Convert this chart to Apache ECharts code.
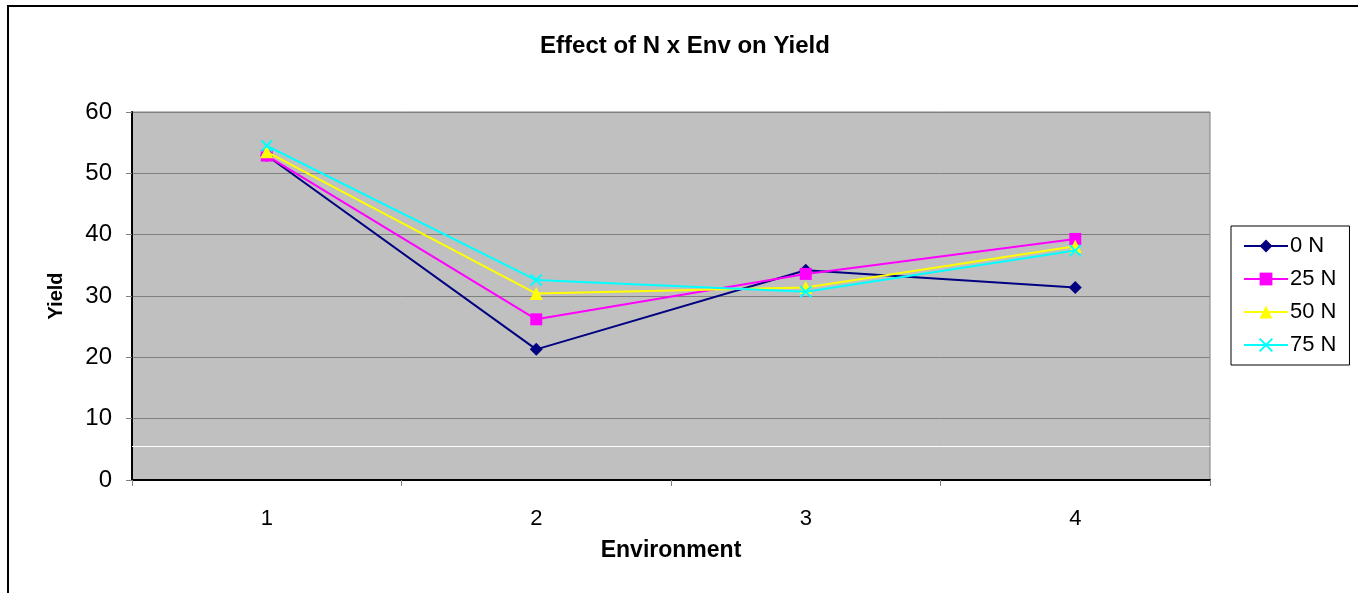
<!DOCTYPE html>
<html>
<head>
<meta charset="utf-8">
<script src="https://cdn.jsdelivr.net/npm/echarts@6/dist/echarts.min.js"></script>
<style>
html,body{margin:0;padding:0;background:#fff;}
#c{width:1358px;height:593px;}
</style>
</head>
<body>
<div id="c"></div>
<script>
const categories = ['1', '2', '3', '4'];
const seriesNames = ['0 N', '25 N', '50 N', '75 N'];
const n0 = [52.9, 21.3, 34.2, 31.4];
const n25 = [52.9, 26.2, 33.6, 39.3];
const n50 = [53.5, 30.4, 31.4, 38.1];
const n75 = [54.5, 32.6, 30.7, 37.4];
const yTicks = [0, 10, 20, 30, 40, 50, 60];

const chart = echarts.init(document.getElementById('c'), null, {renderer: 'canvas'});
const font = '"Liberation Sans", Arial, sans-serif';
const colors = ['#000080', '#FF00FF', '#FFFF00', '#00FFFF'];
const symbols = ['diamond', 'rect', 'triangle', 'path://M0,0L10,10M10,0L0,10'];
const sizes = [13, 12, 13, 11];
const data = [n0, n25, n50, n75];

const series = data.map((d, i) => ({
  name: seriesNames[i],
  type: 'line',
  data: d,
  symbol: symbols[i],
  symbolSize: sizes[i],
  showAllSymbol: true,
  lineStyle: {color: colors[i], width: 2},
  itemStyle: i === 3 ? {color: 'rgba(0,0,0,0)', borderColor: colors[i], borderWidth: 2} : {color: colors[i], borderWidth: 0},
  emphasis: {disabled: true},
  animation: false,
  z: 3 + i
}));
series[0].markLine = {
  silent: true, symbol: 'none', label: {show: false},
  lineStyle: {color: '#ffffff', width: 1, type: 'solid'},
  data: [{yAxis: 5.5}]
};

chart.setOption({
  animation: false,
  graphic: [{
    type: 'rect',
    shape: {x: 8, y: 6, width: 1400, height: 700},
    style: {fill: 'none', stroke: '#000', lineWidth: 2},
    z: 100, silent: true
  }],
  title: {
    text: 'Effect of N x Env on Yield',
    left: 680, top: 29, textAlign: 'center',
    textStyle: {fontFamily: font, fontWeight: 'bold', fontSize: 24, color: '#000'}
  },
  legend: {
    orient: 'vertical',
    left: 1231, top: 226,
    padding: [9, 13, 9, 12],
    backgroundColor: '#fff',
    borderColor: '#000', borderWidth: 1,
    itemWidth: 44, itemHeight: 16, itemGap: 11,
    textStyle: {fontFamily: font, fontSize: 22, color: '#000', padding: [0, 0, 0, -3]},
    data: seriesNames
  },
  grid: {
    left: 132, top: 112, width: 1078, height: 368,
    show: true, backgroundColor: '#c0c0c0', borderColor: '#808080', borderWidth: 1,
    containLabel: false
  },
  xAxis: {
    type: 'category',
    data: categories,
    boundaryGap: true,
    name: 'Environment',
    nameLocation: 'middle',
    nameGap: 59,
    nameTextStyle: {fontFamily: font, fontWeight: 'bold', fontSize: 23, color: '#000'},
    axisLine: {show: true, lineStyle: {color: '#000', width: 2}},
    axisTick: {show: true, length: 6, lineStyle: {color: '#808080'}},
    axisLabel: {fontFamily: font, fontSize: 22, color: '#000', margin: 28},
    splitLine: {show: false}
  },
  yAxis: {
    type: 'value',
    min: 0, max: 60, interval: 10,
    name: 'Yield',
    nameLocation: 'middle',
    nameGap: 66,
    nameTextStyle: {fontFamily: font, fontWeight: 'bold', fontSize: 20, color: '#000'},
    axisLine: {show: true, lineStyle: {color: '#000', width: 2}},
    axisTick: {show: true, length: 6, lineStyle: {color: '#808080'}},
    axisLabel: {fontFamily: font, fontSize: 24, color: '#000', margin: 20,
      formatter: v => yTicks.includes(v) ? String(v) : ''},
    splitLine: {show: true, lineStyle: {color: '#808080', width: 1}}
  },
  series: series
});
</script>
</body>
</html>
